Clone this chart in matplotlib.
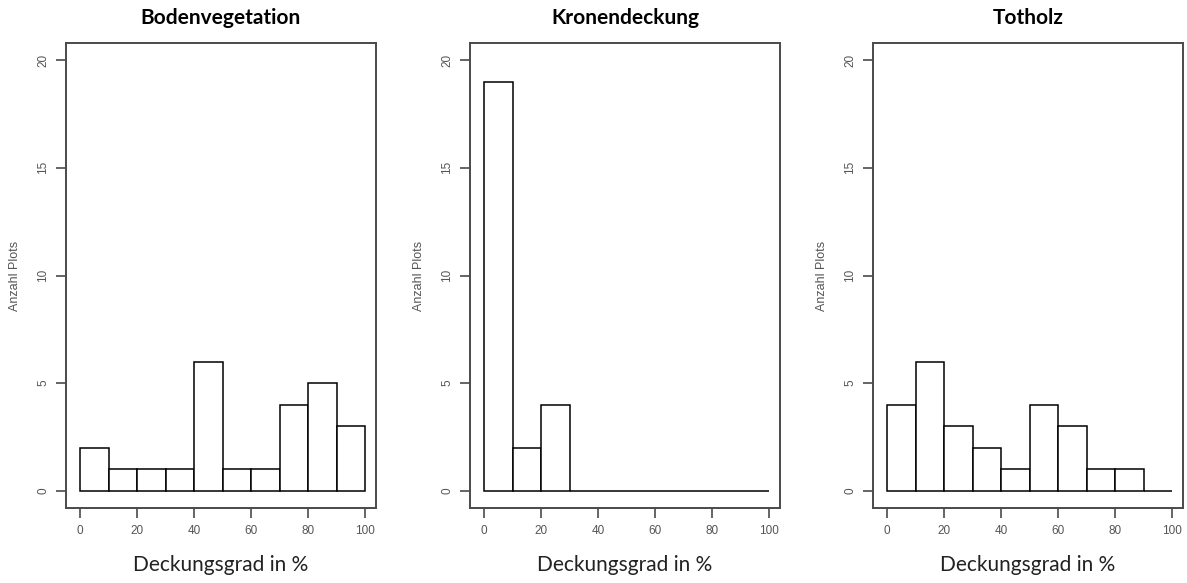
import numpy as np
import matplotlib
matplotlib.use("Agg")
import matplotlib.pyplot as plt

# bin edges of the histograms (Deckungsgrad in %)
bin_edges = [0, 10, 20, 30, 40, 50, 60, 70, 80, 90, 100]

titles = ["Bodenvegetation", "Kronendeckung", "Totholz"]
counts_boden = [2, 1, 1, 1, 6, 1, 1, 4, 5, 3]
counts_krone = [19, 2, 4, 0, 0, 0, 0, 0, 0, 0]
counts_totholz = [4, 6, 3, 2, 1, 4, 3, 1, 1, 0]

x_ticks = [0, 20, 40, 60, 80, 100]
y_ticks = [0, 5, 10, 15, 20]

box_color = "#4a4a4a"
tick_text = "#555555"

fig = plt.figure(figsize=(11.87, 5.83), dpi=100)
lefts = [66, 470, 873]

for left, title, counts in zip(lefts, titles, [counts_boden, counts_krone, counts_totholz]):
    ax = fig.add_axes([left / 1187, 75 / 583, 310 / 1187, 465 / 583])
    edges = np.array(bin_edges, dtype=float)
    ax.bar(edges[:-1], counts, width=np.diff(edges), align="edge",
           facecolor="white", edgecolor="black", linewidth=1.1)
    ax.set_xlim(-5, 103.7)
    ax.set_ylim(-0.8, 20.8)
    ax.set_xticks(x_ticks)
    ax.set_yticks(y_ticks)
    ax.set_xticklabels([str(t) for t in x_ticks], fontsize=8.5, color=tick_text,
                       family="Liberation Sans")
    ax.set_yticklabels([str(t) for t in y_ticks], fontsize=8.5, color=tick_text,
                       family="Liberation Sans", rotation=90, va="center")
    ax.tick_params(direction="out", length=7, width=1.2, color=box_color, pad=5)
    for sp in ax.spines.values():
        sp.set_color(box_color)
        sp.set_linewidth(1.4)
    ax.set_title(title, fontsize=15, fontweight="bold", family="Lato", pad=14)
    ax.set_xlabel("Deckungsgrad in %", fontsize=15, family="Lato", color="#222222",
                  labelpad=13)
    ax.set_ylabel("Anzahl Plots", fontsize=9, family="Liberation Sans",
                  color=tick_text, labelpad=12)

fig.savefig("out.png", dpi=100, facecolor="white")
